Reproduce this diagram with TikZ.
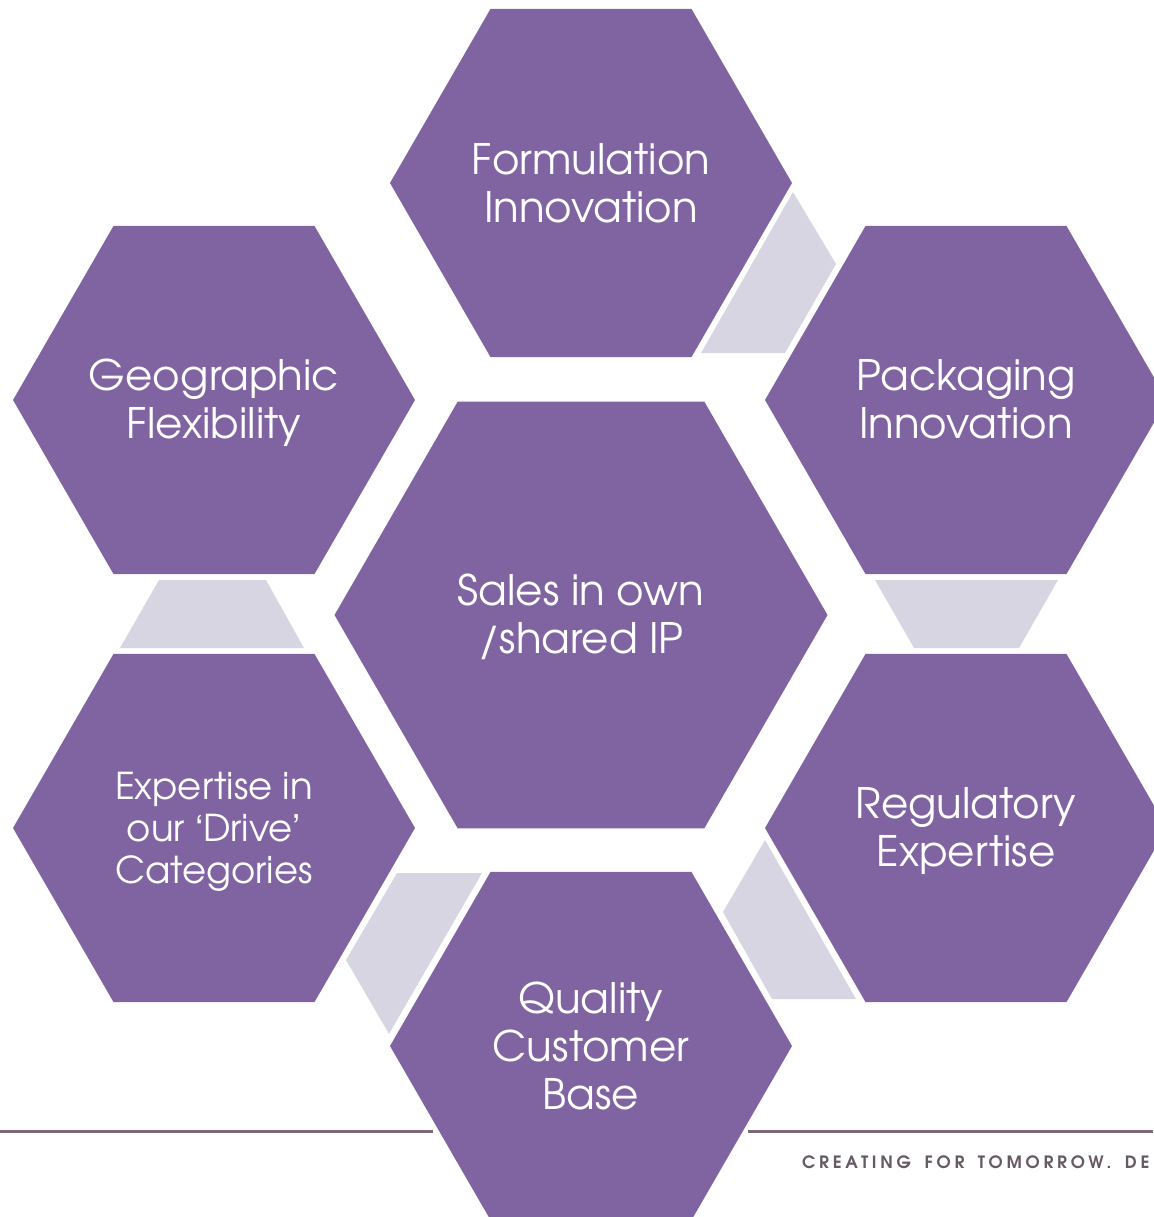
\documentclass[tikz,border=0pt]{standalone}
\usepackage{fontspec}
\setmainfont{TeX Gyre Adventor}
\newfontfamily\taglinefont[LetterSpace=22,WordSpace=1.6]{TeX Gyre Adventor}
\newfontfamily\quotefont{TeX Gyre Heros}
\newcommand{\openq}{{\quotefont ‘}}
\newcommand{\closeq}{{\quotefont ’}}
\usetikzlibrary{shapes.geometric}
\definecolor{hexpurple}{HTML}{8064A2}
\definecolor{linklilac}{HTML}{D8D5E3}
\definecolor{rulegray}{HTML}{7A6A76}
\definecolor{tagline}{HTML}{665A64}
\begin{document}
\begin{tikzpicture}[x=1pt,y=-1pt,
  hex/.style={regular polygon, regular polygon sides=6, minimum size=402pt,
    inner sep=0pt, fill=hexpurple},
  bighex/.style={hex, minimum size=493pt},
  hexlabel/.style={text=white, align=center, inner sep=0pt,
    font=\fontsize{42}{48}\selectfont},
  smalltext/.style={font=\fontsize{37}{42}\selectfont},
  link/.style={fill=linklilac},
  rule/.style={draw=rulegray, line width=3pt}]
\useasboundingbox (0,0) rectangle (1153,1217);

% footer rule
\draw[rule] (0,1131) -- (433,1131);
\draw[rule] (748,1131) -- (1153,1131);
\node[anchor=base west, text=tagline, inner sep=0pt,
  font=\taglinefont\fontsize{17}{17}\selectfont\bfseries]
  (tag) at (802,1168) {CREATING FOR TOMORROW. DE};

% linking pieces between neighbouring hexagons
\fill[link] (793,192) -- (836,264) -- (785,353) -- (701,353) -- cycle;
\fill[link] (875,580) -- (1058,580) -- (1019,648) -- (914,648) -- cycle;
\fill[link] (159,580) -- (266,580) -- (304,648) -- (120,648) -- cycle;
\fill[link] (397,873) -- (482,873) -- (389,1034) -- (346,960) -- cycle;
\fill[link] (765,840) -- (856,999) -- (772,999) -- (723,912) -- cycle;

% hexagons
\node[bighex] (ip) at (581,615) {};
\node[hex] (form) at (591,183) {};
\node[hex] (geo) at (214,400) {};
\node[hex] (pack) at (966,400) {};
\node[hex] (drive) at (214,828) {};
\node[hex] (reg) at (966,828) {};
\node[hex] (qual) at (591,1046) {};

% hexagon captions
\node[hexlabel] (ip-t) at ([yshift=-2pt]ip.center) {Sales in own\\/shared IP};
\node[hexlabel] (form-t) at (form) {Formulation\\Innovation};
\node[hexlabel] (geo-t) at ([yshift=-3pt]geo.center) {Geographic\\Flexibility};
\node[hexlabel] (pack-t) at ([yshift=1pt]pack.center) {Packaging\\Innovation};
\node[hexlabel, smalltext] (drive-t) at ([yshift=-4pt]drive.center) {Expertise in\\our \openq Drive\closeq\\Categories};
\node[hexlabel] (reg-t) at ([yshift=-3pt]reg.center) {Regulatory\\Expertise};
\node[hexlabel] (qual-t) at (qual) {Quality\\Customer\\Base};
\end{tikzpicture}
\end{document}
